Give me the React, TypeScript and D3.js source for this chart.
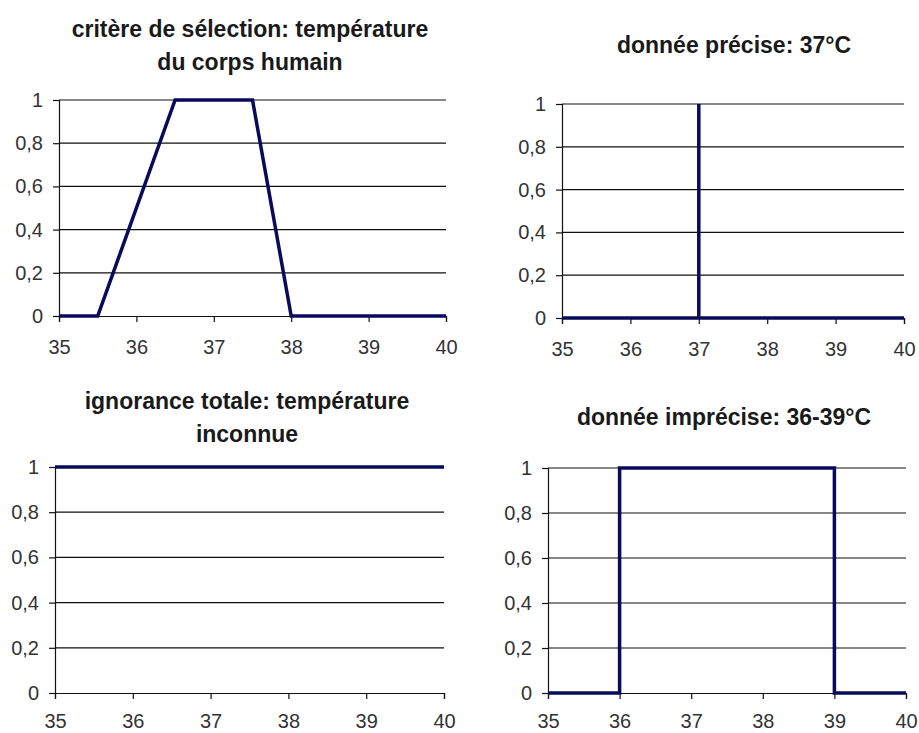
import React, { useEffect, useRef } from "react";
import * as d3 from "d3";

// tick values shared by all four panels
const xTicks = [35, 36, 37, 38, 39, 40];
const yTicks = [0, 0.2, 0.4, 0.6, 0.8, 1];

// membership functions, one per panel
const critereX = [35, 35.5, 36.5, 37.5, 38, 40];
const critereY = [0, 0, 1, 1, 0, 0];

const preciseX = [35, 37, 37, 37, 40];
const preciseY = [0, 0, 1, 0, 0];

const ignoranceX = [35, 40];
const ignoranceY = [1, 1];

const impreciseX = [35, 36, 36, 39, 39, 40];
const impreciseY = [0, 0, 1, 1, 0, 0];

const titles = [
  ["critère de sélection: température", "du corps humain"],
  ["donnée précise: 37°C"],
  ["ignorance totale: température", "inconnue"],
  ["donnée imprécise: 36-39°C"],
];

// layout of each panel in page pixels
const panels = [
  { xs: critereX, ys: critereY, left: 59, right: 446, top: 100, bottom: 316, titleY: 37, titleX: 250, pad: 18 },
  { xs: preciseX, ys: preciseY, left: 562, right: 904, top: 104, bottom: 318, titleY: 53, titleX: 734, pad: 18 },
  { xs: ignoranceX, ys: ignoranceY, left: 55, right: 444, top: 467, bottom: 693, titleY: 409, titleX: 247, pad: 15 },
  { xs: impreciseX, ys: impreciseY, left: 548, right: 906, top: 468, bottom: 693, titleY: 425, titleX: 724, pad: 15 },
];

export default function App() {
  const svgRef = useRef<SVGSVGElement>(null);

  useEffect(() => {
    const svg = d3.select(svgRef.current);
    svg.selectAll("*").remove();

    svg.append("rect").attr("width", 919).attr("height", 733).attr("fill", "#ffffff");

    const font = "'Liberation Sans', Arial, sans-serif";
    const fmt = (d: number) => String(d).replace(".", ",");

    panels.forEach((p, i) => {
      const x = d3.scaleLinear().domain([35, 40]).range([p.left, p.right]);
      const y = d3.scaleLinear().domain([0, 1]).range([p.bottom, p.top]);
      const g = svg.append("g");

      // title
      const title = g
        .append("text")
        .attr("x", p.titleX)
        .attr("y", p.titleY)
        .attr("text-anchor", "middle")
        .attr("font-family", font)
        .attr("font-weight", "bold")
        .attr("font-size", 23)
        .attr("fill", "#1a1a1a");
      titles[i].forEach((t, j) => {
        title
          .append("tspan")
          .attr("x", p.titleX)
          .attr("dy", j === 0 ? 0 : 33)
          .text(t);
      });

      // horizontal gridlines
      g.selectAll(".grid")
        .data(yTicks.filter((d) => d > 0))
        .join("line")
        .attr("x1", p.left)
        .attr("x2", p.right)
        .attr("y1", (d) => y(d))
        .attr("y2", (d) => y(d))
        .attr("stroke", "#111")
        .attr("stroke-width", 1.2);

      // y axis
      const yAxis = d3
        .axisLeft(y)
        .tickValues(yTicks)
        .tickFormat((d) => fmt(d as number))
        .tickSize(6)
        .tickPadding(10);
      const ya = g.append("g").attr("transform", `translate(${p.left},0)`).call(yAxis);

      // x axis
      const xAxis = d3
        .axisBottom(x)
        .tickValues(xTicks)
        .tickFormat(d3.format("d"))
        .tickSize(6)
        .tickPadding(p.pad);
      const xa = g.append("g").attr("transform", `translate(0,${p.bottom})`).call(xAxis);

      [ya, xa].forEach((a) => {
        a.select(".domain").attr("stroke", "#111").attr("stroke-width", 1.2);
        a.selectAll(".tick line").attr("stroke", "#111").attr("stroke-width", 1.2);
        a.selectAll("text")
          .attr("font-family", font)
          .attr("font-size", 20)
          .attr("fill", "#333");
      });

      // data line
      const pts = p.xs.map((v, k) => [v, p.ys[k]] as [number, number]);
      const line = d3
        .line<[number, number]>()
        .x((d) => x(d[0]))
        .y((d) => y(d[1]));
      g.append("path")
        .datum(pts)
        .attr("d", line)
        .attr("fill", "none")
        .attr("stroke", "#0a0a5a")
        .attr("stroke-width", 3.5)
        .attr("stroke-linejoin", "miter");
    });
  }, []);

  return (
    <svg
      ref={svgRef}
      width={919}
      height={733}
      style={{ position: "absolute", left: 0, top: 0 }}
    ></svg>
  );
}
